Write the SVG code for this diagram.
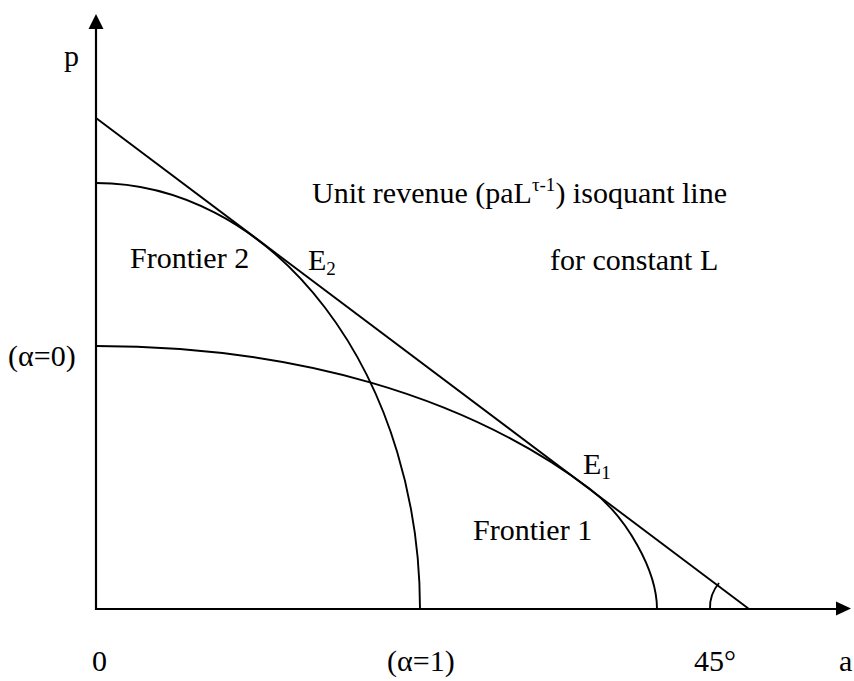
<svg xmlns="http://www.w3.org/2000/svg" width="854" height="681" viewBox="0 0 854 681">
<style>
text{font-family:"Liberation Serif","Times New Roman",serif;font-size:30px;fill:#000}
.s{font-size:19px}
.ax{stroke:#000;stroke-width:2.2;fill:none}
.ln{stroke:#000;stroke-width:1.9;fill:none}
</style>
<rect width="854" height="681" fill="#fff"/>
<g id="axes">
<line class="ax" x1="96" y1="610" x2="96" y2="26"/>
<polygon points="96,14 88.5,29 103.5,29" fill="#000"/>
<line class="ax" x1="95" y1="609" x2="838" y2="609"/>
<polygon points="851,608.5 836,601.5 836,615.5" fill="#000"/>
</g>
<g id="connectors">
<line id="isoquant" class="ln" x1="96" y1="118" x2="749" y2="609"/>
<path id="frontier2" class="ln" d="M96,183 A324,426 0 0 1 420,609"/>
<path id="frontier1" class="ln" d="M96,346 C294,346 466.5,396 590,489 C627,517 657,571 657,609"/>
<path id="angle" class="ln" d="M710,609 A38,38 0 0 1 719,583"/>
</g>
<g id="labels">
<text x="64" y="66">p</text>
<text x="312" y="203">Unit revenue (paL<tspan class="s" dy="-12">τ-1</tspan><tspan dy="12">) isoquant line</tspan></text>
<text x="130" y="268">Frontier 2</text>
<text x="308" y="270">E<tspan class="s" dy="5">2</tspan></text>
<text x="550" y="270">for constant L</text>
<text x="8" y="366">(α=0)</text>
<text x="583" y="474">E<tspan class="s" dy="5">1</tspan></text>
<text x="473" y="540">Frontier 1</text>
<text x="92" y="671">0</text>
<text x="387" y="671">(α=1)</text>
<text x="694" y="671">45°</text>
<text x="839" y="671">a</text>
</g>
</svg>
